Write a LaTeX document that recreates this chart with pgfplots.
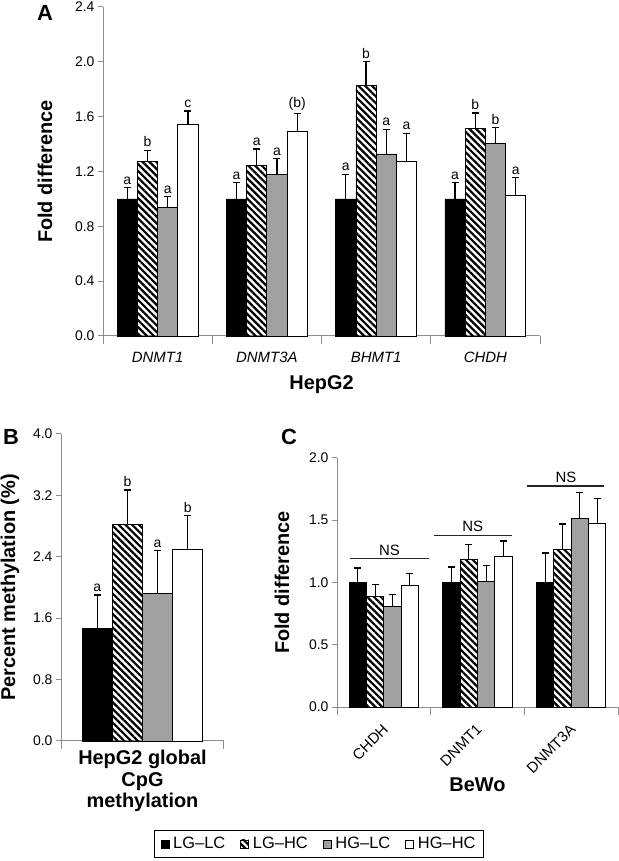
\documentclass[border=0pt]{standalone}
\usepackage{pgfplots}
\pgfplotsset{compat=1.18}
\usepackage{fontspec}
\setmainfont{Liberation Sans}
\usetikzlibrary{patterns.meta}
\definecolor{axgray}{RGB}{140,140,140}
\definecolor{bargray}{RGB}{160,160,160}
\tikzset{bigbold/.style={font=\fontsize{20}{22}\selectfont\bfseries}}
\pgfplotsset{
  panel/.style={
    scale only axis,
    axis x line*=bottom, axis y line*=left,
    axis line style={axgray, line width=1bp},
    tick align=outside,
    major tick length=5bp,
    minor tick length=8bp,
    major y tick style={axgray, line width=1bp},
    major x tick style={draw=none},
    minor x tick style={axgray, line width=1bp},
    ymin=0,
    /pgf/number format/assume math mode=true,
    yticklabel style={font=\fontsize{14}{16}\selectfont, /pgf/number format/.cd, fixed, fixed zerofill, precision=1},
    clip=false,
    legend image code/.code={\draw[#1, line width=0.7bp] (0bp,-4bp) rectangle (8bp,4bp);},
  },
  errs/.style={forget plot, draw=none, mark=none,
    error bars/.cd, y dir=plus, y explicit,
    error bar style={draw=black, line width=1.3bp},
    error mark options={draw=black, line width=1.3bp, mark size=3.5bp, rotate=90}},
  legimg/.style={legend image code/.code={\draw[#1, line width=0.7bp] (0bp,-4bp) rectangle (8bp,4bp);}},
  s1/.style={ybar, bar width=0.185, bar shift=-0.2775, fill=black, draw=black, line width=0.8bp, legimg},
  s2/.style={ybar, bar width=0.185, bar shift=-0.0925, draw=black, line width=0.8bp,
     pattern={Lines[angle=-45, distance=4.8bp, line width=2.2bp]}, pattern color=black, legimg},
  s3/.style={ybar, bar width=0.185, bar shift=0.0925, fill=bargray, draw=black, line width=0.8bp, legimg},
  s4/.style={ybar, bar width=0.185, bar shift=0.2775, fill=white, draw=black, line width=0.8bp, legimg},
  letters/.style={forget plot, draw=none, mark=none, nodes near coords, point meta=explicit symbolic,
     nodes near coords style={anchor=south, font=\fontsize{14}{16}\selectfont, inner sep=1bp, yshift=2bp}},
}
\begin{document}
\begin{tikzpicture}
\path[fill=white, use as bounding box] (0,0) rectangle (619bp,861bp);

% ---------------- Panel A ----------------
\begin{axis}[panel,
  at={(103bp,525bp)}, anchor=south west,
  width=437bp, height=329bp,
  xmin=-0.5, xmax=3.5, ymax=2.4,
  ytick={0,0.4,...,2.4},
  xtick={0,1,2,3},
  xticklabels={DNMT1,DNMT3A,BHMT1,CHDH},
  xticklabel style={font=\fontsize{15}{17}\selectfont\itshape, yshift=-8bp},
  minor xtick={-0.5,0.5,1.5,2.5,3.5},
  xlabel={HepG2},
  ylabel={Fold difference},
  every axis y label/.style={at={(axis description cs:-0.133,0.5)}, rotate=90, anchor=center, bigbold},
  every axis x label/.style={at={(axis description cs:0.5,-0.149)}, anchor=center, bigbold},
]
\addplot[s1] coordinates {(0,1.00) (1,1.00) (2,1.00) (3,1.00)};
\addplot[s2] coordinates {(0,1.27) (1,1.246) (2,1.825) (3,1.515)};
\addplot[s3] coordinates {(0,0.938) (1,1.178) (2,1.328) (3,1.404)};
\addplot[s4] coordinates {(0,1.544) (1,1.493) (2,1.27) (3,1.023)};
\addplot[errs] coordinates {(-0.2775,1.00) +- (0,0.084) (0.7225,1.00) +- (0,0.12) (1.7225,1.00) +- (0,0.18) (2.7225,1.00) +- (0,0.118)};
\addplot[errs] coordinates {(-0.0925,1.27) +- (0,0.085) (0.9075,1.246) +- (0,0.119) (1.9075,1.825) +- (0,0.177) (2.9075,1.515) +- (0,0.112)};
\addplot[errs] coordinates {(0.0925,0.938) +- (0,0.080) (1.0925,1.178) +- (0,0.117) (2.0925,1.328) +- (0,0.180) (3.0925,1.404) +- (0,0.118)};
\addplot[errs] coordinates {(0.2775,1.544) +- (0,0.097) (1.2775,1.493) +- (0,0.129) (2.2775,1.27) +- (0,0.209) (3.2775,1.023) +- (0,0.133)};
\addplot[letters] coordinates {
 (-0.2775,1.084) [a] (-0.0925,1.355) [b] (0.0925,1.018) [a] (0.2775,1.641) [c]
 (0.7225,1.12) [a] (0.9075,1.365) [a] (1.0925,1.295) [a] (1.2775,1.622) [(b)]
 (1.7225,1.18) [a] (1.9075,2.002) [b] (2.0925,1.508) [a] (2.2775,1.479) [a]
 (2.7225,1.118) [a] (2.9075,1.627) [b] (3.0925,1.522) [b] (3.2775,1.156) [a]};
\end{axis}
\node[font=\fontsize{22}{24}\selectfont\bfseries] at (45bp,848bp) {A};

% ---------------- Panel B ----------------
\begin{axis}[panel,
  at={(61bp,120bp)}, anchor=south west,
  width=163bp, height=307bp,
  xmin=-0.5, xmax=0.5, ymax=4.0,
  ytick={0,0.8,...,4.0},
  xtick={0}, xticklabels={},
  minor xtick={-0.5,0.5},
  xlabel={HepG2 global\\CpG\\methylation},
  ylabel={Percent methylation (\%)},
  every axis y label/.style={at={(axis description cs:-0.313,0.5)}, rotate=90, anchor=center, bigbold},
  every axis x label/.style={at={(axis description cs:0.5,-0.130)}, anchor=center, align=center, bigbold},
]
\addplot[s1] coordinates {(0,1.465)};
\addplot[s2] coordinates {(0,2.826)};
\addplot[s3] coordinates {(0,1.917)};
\addplot[s4] coordinates {(0,2.496)};
\addplot[errs] coordinates {(-0.2775,1.465) +- (0,0.439) (-0.0925,2.826) +- (0,0.444) (0.0925,1.917) +- (0,0.561) (0.2775,2.496) +- (0,0.439)};
\addplot[letters] coordinates {(-0.2775,1.904) [a] (-0.0925,3.27) [b] (0.0925,2.478) [a] (0.2775,2.935) [b]};
\end{axis}
\node[font=\fontsize{22}{24}\selectfont\bfseries] at (11bp,424bp) {B};

% ---------------- Panel C ----------------
\begin{axis}[panel,
  at={(337bp,154bp)}, anchor=south west,
  width=281bp, height=249bp,
  xmin=-0.5, xmax=2.5, ymax=2.0,
  ytick={0,0.5,...,2.0},
  xtick={0,1,2},
  xticklabels={CHDH,DNMT1,DNMT3A},
  xticklabel style={font=\fontsize{15}{17}\selectfont, rotate=45, anchor=north east, xshift=-6bp, yshift=-3bp},
  minor xtick={-0.5,0.5,1.5,2.5},
  xlabel={BeWo},
  ylabel={Fold difference},
  every axis y label/.style={at={(axis description cs:-0.196,0.5)}, rotate=90, anchor=center, bigbold},
  every axis x label/.style={at={(axis description cs:0.5,-0.313)}, anchor=center, bigbold},
  legend columns=4,
  legend style={at={(axis description cs:-0.064,-0.550)}, anchor=center, draw=black, line width=0.8bp,
    font=\fontsize{16.5}{18}\selectfont, inner xsep=6bp, inner ysep=5bp,
    /tikz/every odd column/.append style={column sep=2bp},
    /tikz/every even column/.append style={column sep=13bp}},
]
\addplot[s1] coordinates {(0,1.004) (1,1.00) (2,1.00)};
\addlegendentry{LG–LC}
\addplot[s2] coordinates {(0,0.886) (1,1.186) (2,1.269)};
\addlegendentry{LG–HC}
\addplot[s3] coordinates {(0,0.806) (1,1.012) (2,1.518)};
\addlegendentry{HG–LC}
\addplot[s4] coordinates {(0,0.977) (1,1.213) (2,1.473)};
\addlegendentry{HG–HC}
\addplot[errs] coordinates {(-0.2775,1.004) +- (0,0.112) (0.7225,1.00) +- (0,0.124) (1.7225,1.00) +- (0,0.237)};
\addplot[errs] coordinates {(-0.0925,0.886) +- (0,0.097) (0.9075,1.186) +- (0,0.121) (1.9075,1.269) +- (0,0.201)};
\addplot[errs] coordinates {(0.0925,0.806) +- (0,0.099) (1.0925,1.012) +- (0,0.126) (2.0925,1.518) +- (0,0.204)};
\addplot[errs] coordinates {(0.2775,0.977) +- (0,0.097) (1.2775,1.213) +- (0,0.120) (2.2775,1.473) +- (0,0.203)};
\addplot[forget plot, black!85, line width=1.3bp] coordinates {(-0.36,1.19) (0.48,1.19)};
\addplot[forget plot, black!85, line width=1.3bp] coordinates {(0.54,1.376) (1.37,1.376)};
\addplot[forget plot, black!85, line width=1.3bp] coordinates {(1.53,1.775) (2.35,1.775)};
\node[font=\fontsize{15}{17}\selectfont, anchor=south, inner sep=1bp] at (axis cs:0.06,1.21) {NS};
\node[font=\fontsize{15}{17}\selectfont, anchor=south, inner sep=1bp] at (axis cs:0.95,1.396) {NS};
\node[font=\fontsize{15}{17}\selectfont, anchor=south, inner sep=1bp] at (axis cs:1.945,1.795) {NS};
\end{axis}
\node[font=\fontsize{22}{24}\selectfont\bfseries] at (289bp,424bp) {C};
\end{tikzpicture}
\end{document}
